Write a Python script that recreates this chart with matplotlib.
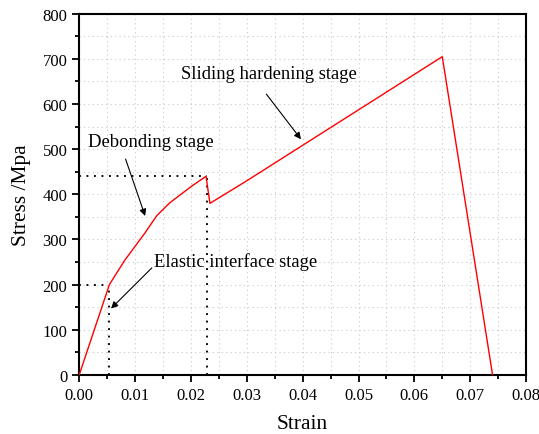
import matplotlib
matplotlib.use("Agg")
import matplotlib.pyplot as plt
from matplotlib.ticker import MultipleLocator

# stress-strain curve
strain = [0.0, 0.0054, 0.0081, 0.0118, 0.0139, 0.0162, 0.0199, 0.0227,
          0.0234, 0.0300, 0.0650, 0.0740]
stress = [0, 200, 253, 315, 353, 381, 416, 440, 380, 430, 705, 0]

# guide lines at the stage transitions
elastic_end = (0.0054, 200)
debond_end = (0.0228, 440)

# stage labels: text, text position, arrow head
labels = ["Sliding hardening stage", "Debonding stage", "Elastic interface stage"]
text_pos = [(0.0182, 668), (0.0016, 518), (0.0133, 253)]
arrow_tail = [(0.0335, 622), (0.0083, 478), (0.0130, 237)]
arrow_head = [(0.0397, 522), (0.0118, 352), (0.0057, 147)]

plt.rcParams["font.family"] = ["Liberation Serif", "DejaVu Serif"]

fig, ax = plt.subplots(figsize=(5.39, 4.35), dpi=100)
fig.subplots_adjust(left=0.147, right=0.976, top=0.966, bottom=0.136)

ax.grid(True, which="both", color="#c8c8c8", linestyle=(0, (1, 3)), linewidth=0.8)
ax.set_axisbelow(True)

ax.plot(strain, stress, color="red", linewidth=1.0, zorder=3)

dots = (0, (1, 3))
ax.plot([0, elastic_end[0]], [elastic_end[1]] * 2, color="black", linestyle=dots, lw=1.35)
ax.plot([elastic_end[0]] * 2, [0, elastic_end[1]], color="black", linestyle=dots, lw=1.35)
ax.plot([0, debond_end[0]], [debond_end[1]] * 2, color="black", linestyle=dots, lw=1.35)
ax.plot([debond_end[0]] * 2, [0, debond_end[1]], color="black", linestyle=dots, lw=1.35)

for label, pos, tail, head in zip(labels, text_pos, arrow_tail, arrow_head):
    ax.text(pos[0], pos[1], label, fontsize=13.4, va="center", ha="left")
    ax.annotate("", xy=head, xytext=tail,
                arrowprops=dict(arrowstyle="-|>", color="black", lw=0.8,
                                mutation_scale=10, shrinkA=0, shrinkB=0))

ax.set_xlim(0, 0.08)
ax.set_ylim(0, 800)
ax.xaxis.set_major_locator(MultipleLocator(0.01))
ax.xaxis.set_minor_locator(MultipleLocator(0.005))
ax.yaxis.set_major_locator(MultipleLocator(100))
ax.yaxis.set_minor_locator(MultipleLocator(50))
ax.xaxis.set_major_formatter(matplotlib.ticker.FormatStrFormatter("%.2f"))

ax.tick_params(which="both", direction="out", top=False, right=False,
               width=1.3, labelsize=12)
ax.tick_params(which="major", length=5)
ax.tick_params(which="minor", length=3)
for sp in ax.spines.values():
    sp.set_linewidth(1.5)

ax.set_xlabel("Strain", fontsize=15.4, labelpad=8)
ax.set_ylabel("Stress /Mpa", fontsize=15.4, labelpad=8)

fig.savefig("out.png", dpi=100)
